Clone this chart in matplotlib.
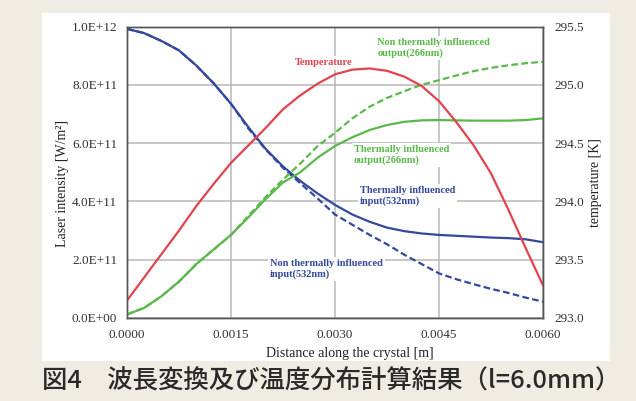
import numpy as np
import matplotlib.pyplot as plt
from matplotlib.patches import Rectangle

# distance along the crystal [m]
dist = [0.0, 0.00025, 0.0005, 0.00075, 0.001, 0.00125, 0.0015, 0.00175,
        0.002, 0.00225, 0.0025, 0.00275, 0.003, 0.00325, 0.0035, 0.00375,
        0.004, 0.00425, 0.0045, 0.00475, 0.005, 0.00525, 0.0055, 0.00575, 0.006]

# 532nm input intensity [W/m^2]
inp_thermal = [9.92e11, 9.77e11, 9.50e11, 9.18e11, 8.66e11, 8.05e11, 7.35e11, 6.55e11,
               5.80e11, 5.20e11, 4.70e11, 4.27e11, 3.88e11, 3.55e11, 3.30e11, 3.10e11,
               2.98e11, 2.90e11, 2.85e11, 2.82e11, 2.79e11, 2.76e11, 2.74e11, 2.70e11, 2.60e11]
inp_nonthermal = [9.92e11, 9.77e11, 9.50e11, 9.18e11, 8.66e11, 8.05e11, 7.35e11, 6.50e11,
                  5.78e11, 5.15e11, 4.62e11, 4.10e11, 3.55e11, 3.20e11, 2.85e11, 2.53e11,
                  2.17e11, 1.85e11, 1.53e11, 1.33e11, 1.16e11, 1.00e11, 0.86e11, 0.70e11, 0.56e11]

# 266nm output intensity [W/m^2]
out_thermal = [0.12e11, 0.35e11, 0.75e11, 1.25e11, 1.85e11, 2.35e11, 2.85e11, 3.45e11,
               4.08e11, 4.65e11, 5.00e11, 5.50e11, 5.90e11, 6.20e11, 6.45e11, 6.62e11,
               6.73e11, 6.78e11, 6.79e11, 6.78e11, 6.77e11, 6.77e11, 6.77e11, 6.79e11, 6.85e11]
out_nonthermal = [0.12e11, 0.35e11, 0.75e11, 1.25e11, 1.85e11, 2.35e11, 2.85e11, 3.50e11,
                  4.15e11, 4.75e11, 5.30e11, 5.90e11, 6.35e11, 6.85e11, 7.25e11, 7.55e11,
                  7.78e11, 8.00e11, 8.16e11, 8.32e11, 8.47e11, 8.58e11, 8.67e11, 8.74e11, 8.79e11]

# crystal temperature [K]
temp = [293.15, 293.35, 293.55, 293.75, 293.96, 294.15, 294.33, 294.48,
        294.63, 294.79, 294.91, 295.01, 295.09, 295.13, 295.14, 295.12,
        295.07, 294.99, 294.86, 294.68, 294.48, 294.24, 293.93, 293.60, 293.28]

xticks = [0.0, 0.0015, 0.003, 0.0045, 0.006]
xtick_labels = ["0.0000", "0.0015", "0.0030", "0.0045", "0.0060"]
yticks = [0, 2e11, 4e11, 6e11, 8e11, 1e12]
ytick_labels = ["0.0E+00", "2.0E+11", "4.0E+11", "6.0E+11", "8.0E+11", "1.0E+12"]
tticks = [293.0, 293.5, 294.0, 294.5, 295.0, 295.5]
ttick_labels = ["293.0", "293.5", "294.0", "294.5", "295.0", "295.5"]

BLUE = "#34499c"
GREEN = "#5bb84b"
RED = "#e2434c"
serif = "Liberation Serif"

fig = plt.figure(figsize=(6.36, 4.01), dpi=100, facecolor="#efece3")
# white panel behind the chart
fig.patches.append(Rectangle((42/636, 40/401), 568/636, 348/401,
                             transform=fig.transFigure, facecolor="white",
                             edgecolor="none", zorder=-10))

ax = fig.add_axes([127/636, 83/401, 416/636, 291.5/401])
ax.set_facecolor("white")
ax2 = ax.twinx()

ax.plot(dist, inp_thermal, color=BLUE, lw=1.6, solid_joinstyle="round")
ax.plot(dist, inp_nonthermal, color=BLUE, lw=1.6, ls=(0, (3, 1.5)))
ax.plot(dist, out_thermal, color=GREEN, lw=1.6, solid_joinstyle="round")
ax.plot(dist, out_nonthermal, color=GREEN, lw=1.6, ls=(0, (3, 1.5)))
ax2.plot(dist, temp, color=RED, lw=1.6, solid_joinstyle="round")

ax.set_xlim(0, 0.006)
ax.set_ylim(0, 1e12)
ax2.set_ylim(293.0, 295.5)
ax.set_xticks(xticks, xtick_labels)
ax.set_yticks(yticks, ytick_labels)
ax2.set_yticks(tticks, ttick_labels)
ax.grid(True, color="#b8b8b8", lw=1.1)

for a in (ax, ax2):
    for s in a.spines.values():
        s.set_color("#555555")
        s.set_linewidth(1.0)
    for lab in a.get_xticklabels() + a.get_yticklabels():
        lab.set_family(serif)
        lab.set_fontsize(9.5)
        lab.set_color("#333333")
ax.tick_params(axis="both", length=0)
ax.tick_params(axis="y", pad=7)
ax.tick_params(axis="x", pad=8)
ax2.tick_params(axis="y", length=0, pad=8)

ax.set_xlabel("Distance along the crystal [m]", family=serif, fontsize=10, color="#222222")
ax.xaxis.set_label_coords(0.536, -0.10)
ax.set_ylabel("Laser intensity [W/m²]", family=serif, fontsize=10, color="#222222", va="center")
ax.yaxis.set_label_coords(-0.155, 0.46)
ax2.set_ylabel("temperature [K]", family=serif, fontsize=10, color="#222222", va="center", rotation=90)
ax2.yaxis.set_label_coords(1.126, 0.463)

# curve labels
box = dict(facecolor="white", edgecolor="none", pad=1.5)
lab_kw = dict(family=serif, fontsize=7.5, fontweight="bold", linespacing=1.25, bbox=box)
ax.text(0.00284, 0.875e12, "Temperature", color=RED, ha="center", va="center", **lab_kw)
ax.text(0.00361, 0.926e12, "Non thermally influenced\noutput(266nm)", color=GREEN, va="center", **lab_kw)
ax.text(0.00327, 0.559e12, "Thermally influenced\noutput(266nm)", color=GREEN, va="center", **lab_kw)
ax.text(0.00336, 0.419e12, "Thermally influenced\ninput(532nm)", color=BLUE, va="center", **lab_kw)
ax.text(0.00206, 0.168e12, "Non thermally influenced\ninput(532nm)", color=BLUE, va="center", **lab_kw)

fig.text(42/636, 19/401, "図4　波長変換及び温度分布計算結果（l=6.0mm）",
         family=["Noto Sans CJK JP", "DejaVu Sans"], fontsize=18.3, fontweight="medium",
         color="#2a2a2a", ha="left", va="center")

fig.savefig("out.png", dpi=100, facecolor=fig.get_facecolor())
